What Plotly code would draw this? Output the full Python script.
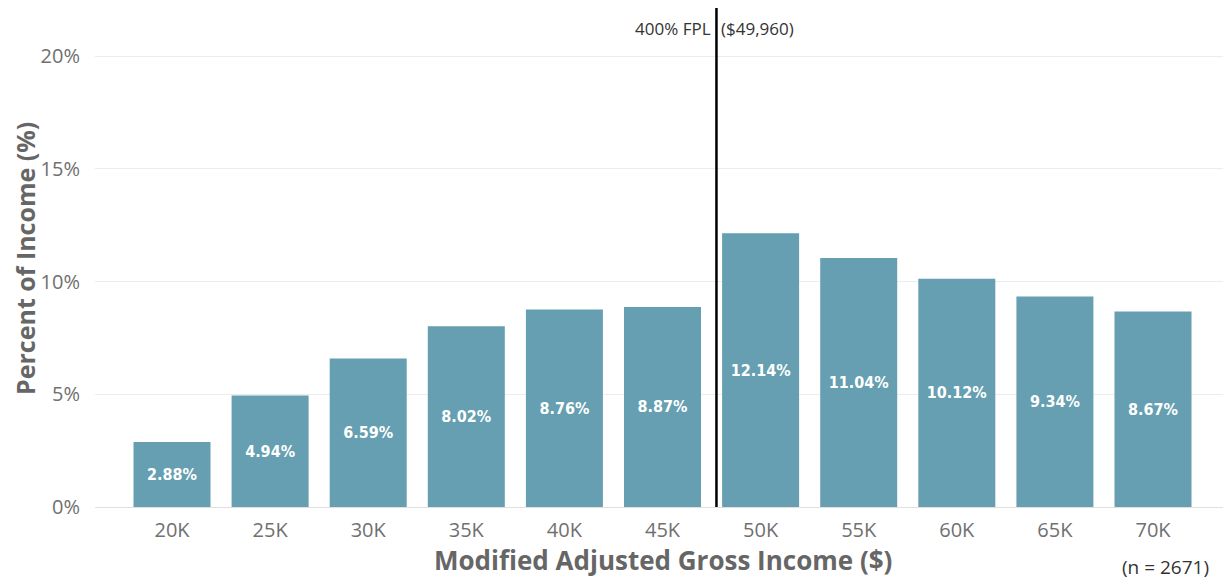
import plotly.graph_objects as go

categories = ["20K", "25K", "30K", "35K", "40K", "45K", "50K", "55K", "60K", "65K", "70K"]
percent_values = [2.88, 4.94, 6.59, 8.02, 8.76, 8.87, 12.14, 11.04, 10.12, 9.34, 8.67]
y_tick_vals = [0, 5, 10, 15, 20]
y_tick_text = ["0%", "5%", "10%", "15%", "20%"]
fpl_position = 5.55  # between 45K and 50K bars
fpl_left_label = "400% FPL"
fpl_right_label = "($49,960)"
n_label = "(n = 2671)"
x_title = "Modified Adjusted Gross Income ($)"
y_title = "Percent of Income (%)"

# page has an 8px body margin, so the figure is drawn 8px in from top-left
OFF = 8
W, H = 1231 - OFF, 579 - OFF
ML, MR, MT, MB = 95 - OFF, 0, 0, 72
PH = H - MT - MB

def py(pix):
    return 1.0 - (pix - OFF - MT) / PH

def px(pix):
    return (pix - OFF - ML) / (W - ML - MR)

x_idx = list(range(len(categories)))
tl = "Open Sans"

fig = go.Figure()
fig.add_trace(go.Bar(
    x=x_idx,
    y=percent_values,
    width=0.785,
    marker=dict(color="#659fb1", line=dict(width=0)),
    texttemplate="%{y:.2f}%",
    textposition="inside",
    insidetextanchor="middle",
    textangle=0,
    textfont=dict(family="DejaVu Sans Condensed", size=16, color="white", weight="bold"),
    hoverinfo="skip",
))

fig.add_shape(type="line", xref="x", yref="paper", x0=fpl_position, x1=fpl_position,
              y0=0, y1=1, line=dict(color="black", width=2.5))

fig.add_annotation(x=fpl_position, y=py(28), xref="x", yref="paper", yanchor="middle",
                   text=fpl_left_label, showarrow=False, xanchor="right", xshift=-3,
                   font=dict(family=tl, size=17, color="#333333"))
fig.add_annotation(x=fpl_position, y=py(28), xref="x", yref="paper",
                   yanchor="middle", text=fpl_right_label, showarrow=False,
                   xanchor="left", xshift=3,
                   font=dict(family=tl, size=17, color="#333333"))
fig.add_annotation(x=px(1211), y=py(567), xref="paper", yref="paper", xanchor="right",
                   yanchor="middle", text=n_label, showarrow=False,
                   font=dict(family=tl, size=19, color="#333333"))
fig.add_annotation(x=px(663), y=py(560), xref="paper", yref="paper", xanchor="center",
                   yanchor="middle", text="<b>" + x_title + "</b>", showarrow=False,
                   font=dict(family=tl, size=26, color="#666666"))
fig.add_annotation(x=px(25), y=py(259), xref="paper", yref="paper", xanchor="center",
                   yanchor="middle", text="<b>" + y_title + "</b>", showarrow=False,
                   textangle=-90, font=dict(family=tl, size=25, color="#666666"))

fig.update_layout(
    width=W, height=H,
    margin=dict(l=ML, r=MR, t=MT, b=MB, autoexpand=False),
    paper_bgcolor="white", plot_bgcolor="white",
    showlegend=False,
    xaxis=dict(
        range=[-0.785, 10.795], automargin=False,
        tickmode="array", tickvals=x_idx, ticktext=categories,
        tickfont=dict(family=tl, size=20, color="#707070"),
        showgrid=False, zeroline=False, showline=False,
        ticks="outside", ticklen=5, tickcolor="rgba(0,0,0,0)",
    ),
    yaxis=dict(
        range=[0, 22.13], automargin=False,
        tickmode="array", tickvals=y_tick_vals, ticktext=y_tick_text,
        tickfont=dict(family=tl, size=20, color="#707070"),
        showgrid=True, gridcolor="#ececec", gridwidth=1,
        zeroline=True, zerolinecolor="#e0e0e0", zerolinewidth=1,
        showline=False, ticks="outside", ticklen=10, tickcolor="rgba(0,0,0,0)",
    ),
)

fig.write_html("out.html")
